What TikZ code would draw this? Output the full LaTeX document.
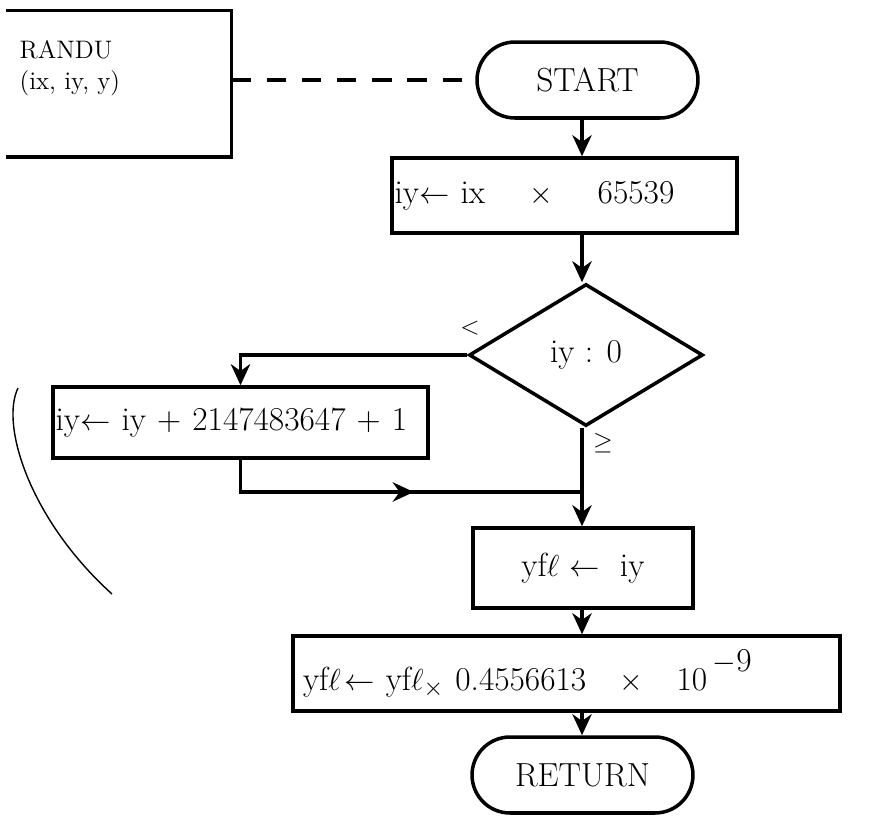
\documentclass[tikz,border=0pt]{standalone}
\usepackage{amsmath}
\usetikzlibrary{arrows.meta, shapes.geometric, shapes.misc, decorations.markings}

\begin{document}
\begin{tikzpicture}[x=0.02cm, y=-0.02cm, line width=2pt, font=\fontsize{19}{23}\selectfont,
  procbox/.style={draw, rectangle, inner ysep=0pt, minimum height=1.5cm},
  termbox/.style={draw, rounded rectangle, inner sep=0pt,
    minimum width=4.42cm, minimum height=1.52cm},
  testbox/.style={draw, diamond, inner sep=0pt,
    minimum width=4.68cm, minimum height=2.84cm},
  flow/.style={-{Stealth[length=12pt, width=11pt]}},
  link/.style={dash pattern=on 11pt off 9pt, line width=2.2pt},
  midarrow/.style={postaction={decorate, decoration={markings,
    mark=at position 0.55 with {\arrow{Stealth[length=12pt, width=11pt]}}}}}]
  \useasboundingbox (0,0) rectangle (873,825);
  \coordinate (col) at (582,0);
  \coordinate (join) at (582,492);
  % subroutine box, open on the left
  \node[minimum width=4.44cm, minimum height=2.86cm] (randu) at (119,83.5) {};
  \draw (randu.north west) -- (randu.north east) -- (randu.south east) -- (randu.south west);
  \node[anchor=west, align=left, font=\Large] (randutxt) at (12,68) {RANDU\\(ix, iy,\ y)};
  \node[termbox] (start) at (587.5,80) {START};
  \node[procbox, text width=6.8cm, inner xsep=0.05cm, align=left] (mult) at (564.5,195.5)
    {iy$\leftarrow$ ix\quad\ $\times$\quad\ 65539};
  \node[testbox] (test) at (586,355) {iy : 0};
  \node[procbox, text width=7.4cm, inner xsep=0.05cm, minimum height=1.42cm, align=left]
    (fix) at (240.5,422.5) {iy$\leftarrow$ iy + 2147483647 + 1};
  \node[procbox, minimum width=4.4cm, minimum height=1.6cm] (conv) at (583,568)
    {yf$\ell$ $\leftarrow$\ \ iy};
  \node[procbox, text width=10.54cm, inner xsep=0.2cm, align=left] (scale) at (566.5,673.5)
    {yf$\ell\!\leftarrow$ yf$\ell_{\times}$\ 0.4556613\quad$\times$\quad 10\,\raisebox{1.3ex}{$-$9}};
  \node[termbox] (ret) at (582.5,775) {RETURN};
  \node[font=\Large] (lt) at (470,328) {$<$};
  \node[font=\Large] (ge) at (603,443) {$\geq$};
  % connectors
  \draw[link] (start.west -| randu.east) -- (start.west);
  \draw[flow] (start.south -| col) -- (mult.north -| col);
  \draw[flow] (mult.south -| col) -- (test.north -| col);
  \draw[flow] (test.west) -| (fix.north);
  \draw[midarrow] (fix.south) |- (join);
  \draw[flow] (test.south -| col) -- (conv.north -| col);
  \draw[flow] (conv.south -| col) -- (scale.north -| col);
  \draw[flow] (scale.south -| col) -- (ret.north -| col);
  \draw[line width=0.8pt] (18,388) .. controls (0,425) and (30,520) .. (112,594);
\end{tikzpicture}
\end{document}
